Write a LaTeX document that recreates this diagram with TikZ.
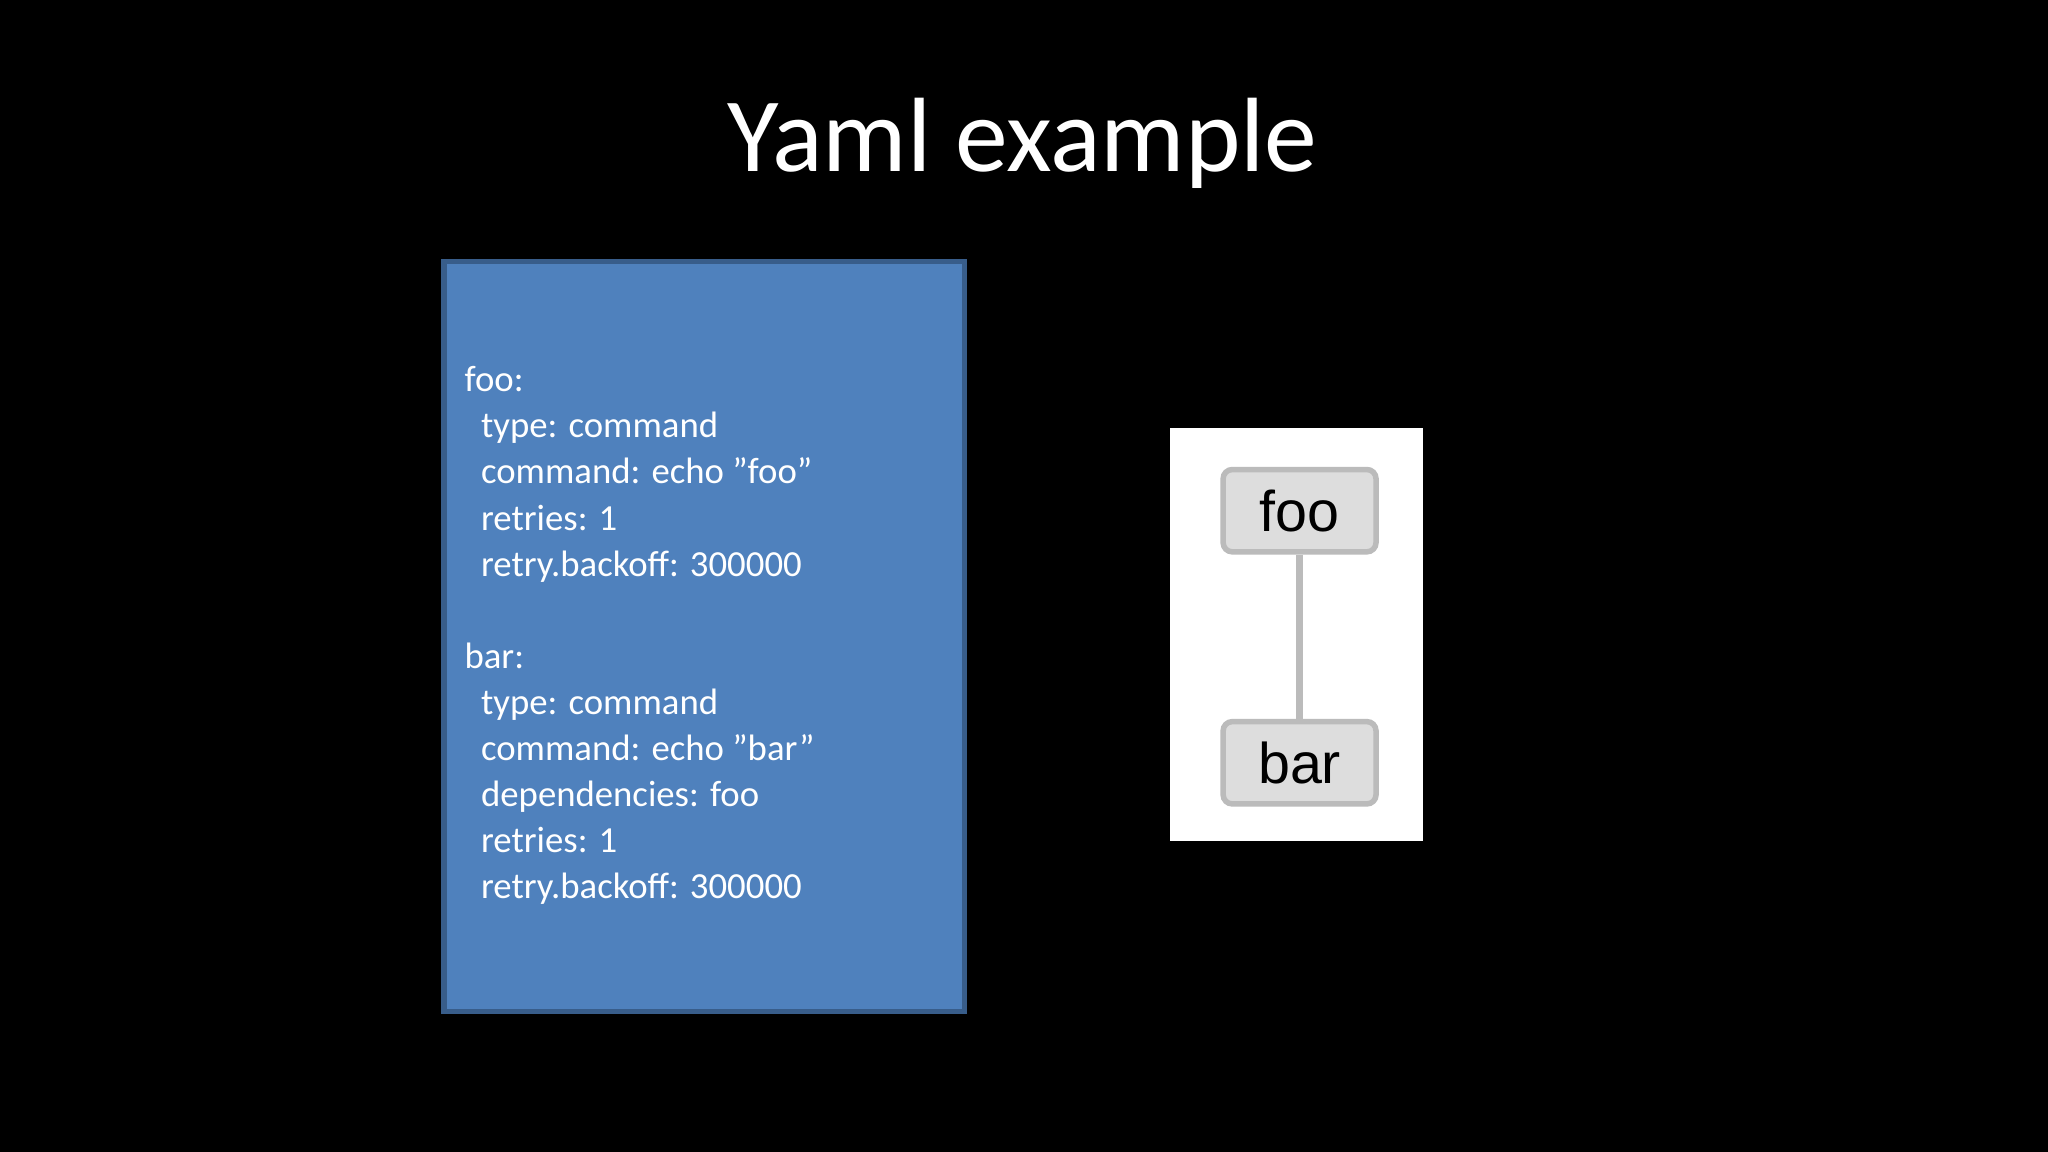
\documentclass[tikz,border=0pt]{standalone}
\usepackage{fontspec}
\setmainfont{Carlito}
\newfontfamily\helv{Liberation Sans}
\definecolor{boxblue}{HTML}{4F81BD}
\definecolor{boxedge}{HTML}{385D8A}
\definecolor{ngray}{HTML}{DDDDDD}
\definecolor{nedge}{HTML}{BBBBBB}
\begin{document}
\begin{tikzpicture}[x=0.01cm,y=-0.01cm,
  jobnode/.style={draw=nedge,line width=1.2pt,fill=ngray,rounded corners=2pt,minimum width=1.17cm,minimum height=0.63cm,font=\helv\fontsize{12.5pt}{14pt}\selectfont,text=black,inner sep=0pt}]
\fill[black] (0,0) rectangle (1568,882);
\useasboundingbox (0,0) rectangle (1568,882);
\node[text=white,font=\fontsize{23pt}{26pt}\selectfont] (title) at (783,110) {Yaml example};
\node[draw=boxedge,line width=1.2pt,fill=boxblue,minimum width=3.98cm,minimum height=5.74cm,anchor=north west,inner sep=0pt] (yaml) at (338,198) {};
\node[anchor=north west,align=left,text=white,inner sep=0pt,font=\fontsize{8pt}{10.03pt}\selectfont] (code) at (355,280) {%
foo:\\
\hspace*{0.45em}type: command\\
\hspace*{0.45em}command: echo "foo”\\
\hspace*{0.45em}retries: 1\\
\hspace*{0.45em}retry.backoff: 300000\\[10.03pt]
bar:\\
\hspace*{0.45em}type: command\\
\hspace*{0.45em}command: echo "bar”\\
\hspace*{0.45em}dependencies: foo\\
\hspace*{0.45em}retries: 1\\
\hspace*{0.45em}retry.backoff: 300000};
\node[fill=white,minimum width=1.94cm,minimum height=3.16cm,anchor=north west,inner sep=0pt] (panel) at (895,327) {};
\node[jobnode] (foo) at (995,391) {foo};
\node[jobnode] (bar) at (995,584) {bar};
\draw[nedge,line width=1.5pt] (foo) -- (bar);
\end{tikzpicture}
\end{document}
